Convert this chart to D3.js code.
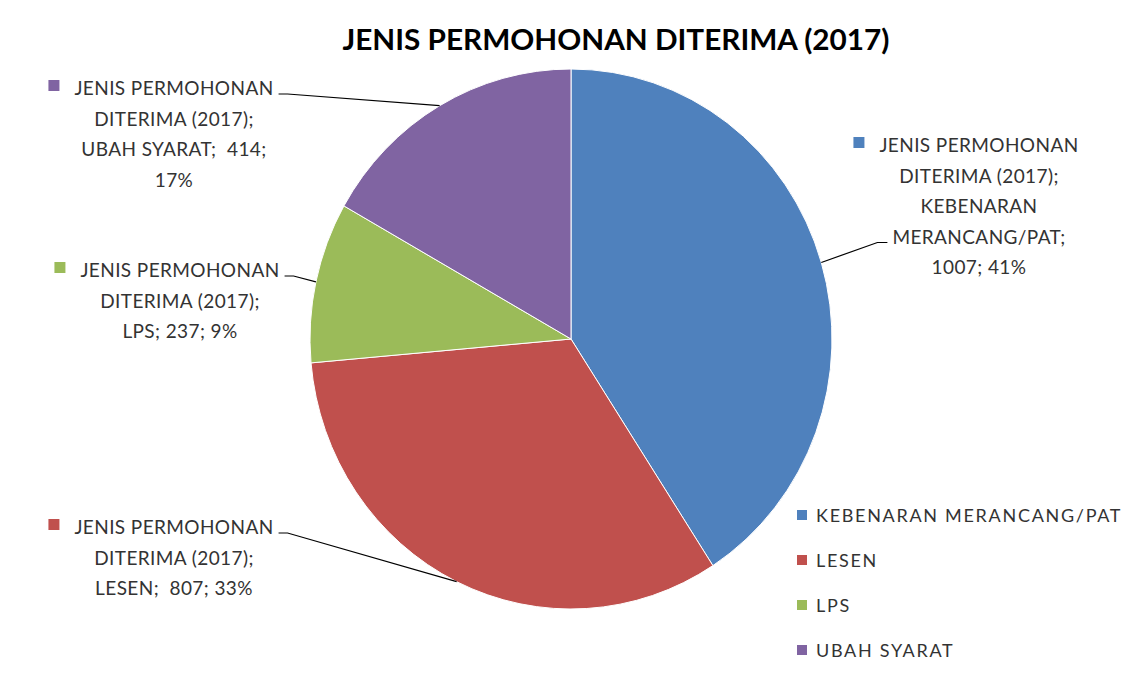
<!DOCTYPE html>
<html>
<head>
<meta charset="utf-8">
<script src="https://cdn.jsdelivr.net/npm/d3@7"></script>
<style>
  html, body { margin: 0; padding: 0; background: #fff; }
  text { font-family: Lato, "Open Sans", sans-serif; white-space: pre; }
</style>
</head>
<body>
<div id="chart"></div>
<script>
const width = 1128, height = 675;

const title = "JENIS PERMOHONAN DITERIMA (2017)";
const categories = ["KEBENARAN MERANCANG/PAT", "LESEN", "LPS", "UBAH SYARAT"];
const values = [1007, 807, 237, 414];
const colors = ["#4F81BD", "#C0504D", "#9BBB59", "#8064A2"];
const labelLines = [
  ["JENIS PERMOHONAN", "DITERIMA (2017);", "KEBENARAN", "MERANCANG/PAT;", "1007; 41%"],
  ["JENIS PERMOHONAN", "DITERIMA (2017);", "LESEN;  807; 33%"],
  ["JENIS PERMOHONAN", "DITERIMA (2017);", "LPS; 237; 9%"],
  ["JENIS PERMOHONAN", "DITERIMA (2017);", "UBAH SYARAT;  414;", "17%"]
];

// label placement: centre x, first line y, which line the leader attaches to, and side
const labelPos = [
  {x: 979, y: 152, line: 3, side: "left"},
  {x: 174, y: 534, line: 0, side: "right"},
  {x: 180, y: 277, line: 0, side: "right"},
  {x: 174, y: 95, line: 0, side: "right"}
];

const cx = 571, cy = 339, rx = 261, ry = 270;
const lineH = 30.5;

const svg = d3.select("#chart")
  .append("svg")
  .attr("width", width)
  .attr("height", height);

svg.append("text")
  .attr("x", 616)
  .attr("y", 50)
  .attr("text-anchor", "middle")
  .attr("font-size", 29)
  .attr("font-weight", "bold")
  .attr("fill", "#000")
  .attr("textLength", 547)
  .attr("lengthAdjust", "spacingAndGlyphs")
  .text(title);

const pie = d3.pie().sort(null).value(d => d)(values);
const arc = d3.arc().innerRadius(0).outerRadius(rx);

svg.append("g")
  .attr("transform", `translate(${cx},${cy}) scale(1,${ry / rx})`)
  .selectAll("path")
  .data(pie)
  .join("path")
  .attr("d", arc)
  .attr("fill", (d, i) => colors[i])
  .attr("stroke", "#fff")
  .attr("stroke-width", 1)
  .attr("vector-effect", "non-scaling-stroke");

// data labels
const labels = svg.append("g")
  .attr("fill", "#333")
  .attr("font-size", 19)
  .attr("letter-spacing", 0.4);

pie.forEach((p, i) => {
  const pos = labelPos[i];
  const g = labels.append("g");
  labelLines[i].forEach((t, j) => {
    g.append("text")
      .attr("x", pos.x)
      .attr("y", pos.y + j * lineH)
      .attr("text-anchor", "middle")
      .text(t);
  });
  const first = g.select("text").node().getComputedTextLength();
  g.append("rect")
    .attr("x", pos.x - first / 2 - 26)
    .attr("y", pos.y - 15)
    .attr("width", 11)
    .attr("height", 11)
    .attr("fill", colors[i]);

  const anchorText = g.selectAll("text").nodes()[pos.line];
  const w = anchorText.getComputedTextLength();
  const ly = pos.y + pos.line * lineH - 1;
  const mid = (p.startAngle + p.endAngle) / 2;
  const ex = cx + rx * Math.sin(mid), ey = cy - ry * Math.cos(mid);
  let sx, hx;
  if (pos.side === "right") {
    sx = pos.x + w / 2 + 5; hx = sx + 9;
  } else {
    sx = pos.x - w / 2 - 5; hx = sx - 10;
  }
  svg.append("path")
    .attr("d", d3.line()([[sx, ly], [hx, ly], [ex, ey]]))
    .attr("fill", "none")
    .attr("stroke", "#000")
    .attr("stroke-width", 1.2);
});

// legend
const legend = svg.append("g")
  .selectAll("g")
  .data(categories)
  .join("g")
  .attr("transform", (d, i) => `translate(797,${516 + i * 45})`);

legend.append("rect")
  .attr("x", 0)
  .attr("y", -6)
  .attr("width", 10)
  .attr("height", 10)
  .attr("fill", (d, i) => colors[i]);

legend.append("text")
  .attr("x", 19)
  .attr("y", 6)
  .attr("font-size", 18)
  .attr("letter-spacing", 1.7)
  .attr("fill", "#333")
  .text(d => d);
</script>
</body>
</html>
